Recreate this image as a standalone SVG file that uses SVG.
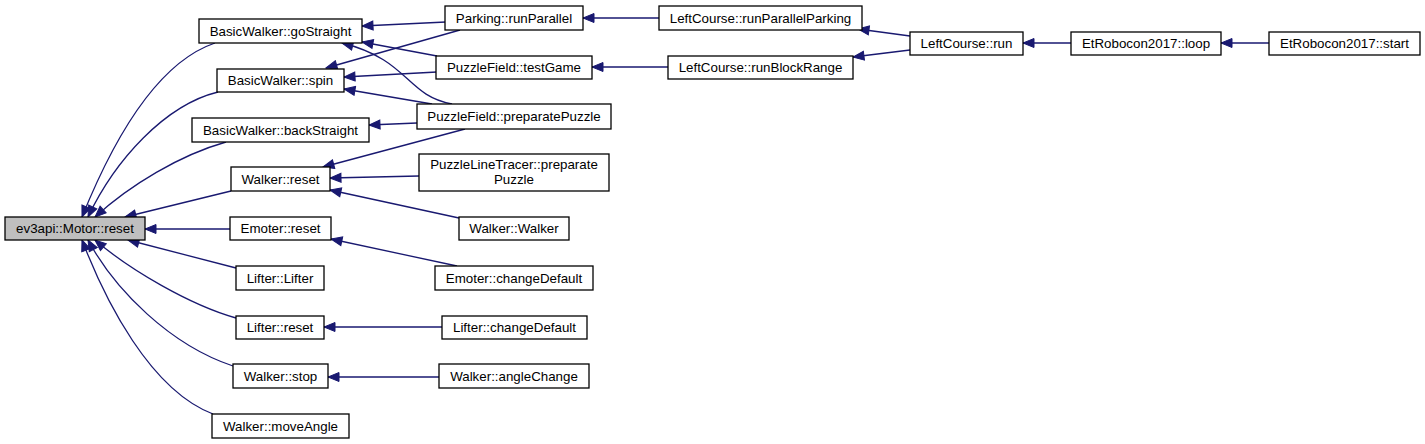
<svg xmlns="http://www.w3.org/2000/svg" width="1425" height="444" viewBox="0 0 1425 444">
<defs>
<marker id="ah" markerUnits="userSpaceOnUse" markerWidth="13" markerHeight="11" viewBox="-1 -1 13 11" refX="11" refY="4.5" orient="auto">
<path d="M0,0 L11,4.5 L0,9 z" fill="#191970" stroke="#191970" stroke-width="1"/>
</marker>
<style>
.n rect{fill:#ffffff;stroke:#000000;stroke-width:1.3}
.n.g rect{fill:#bfbfbf}
.n text{font-family:"Liberation Sans",Arial,Helvetica,sans-serif;font-size:13.33px;fill:#000000;text-anchor:middle}
#edges path{fill:none;stroke:#191970;stroke-width:1.3;marker-end:url(#ah)}
</style>
</defs>
<rect width="1425" height="444" fill="#ffffff"/>
<g id="edges">
<path d="M215,43 C150,65 105,160 82,217"/>
<path d="M218,92 C165,105 115,160 88,217"/>
<path d="M226,142 C180,155 130,185 95,217"/>
<path d="M231,191 L125,217"/>
<path d="M230,229 L145,229"/>
<path d="M236,268 L128,240"/>
<path d="M236,318 C190,305 130,270 95,240"/>
<path d="M233,366 C170,345 115,290 88,240"/>
<path d="M213,414 C150,390 105,300 82,240"/>
<path d="M446,22 L362,26"/>
<path d="M460,30 L326,68"/>
<path d="M437,56 L362,42"/>
<path d="M452,104 C405,95 410,60 342,43"/>
<path d="M437,72 L344,77"/>
<path d="M432,104 L344,89"/>
<path d="M417,123 L369,125"/>
<path d="M465,129 L323,167"/>
<path d="M419,176 L330,178"/>
<path d="M459,218 L330,190"/>
<path d="M457,266 L331,239"/>
<path d="M442,327 L324,327"/>
<path d="M439,377 L328,377"/>
<path d="M659,18 L583,18"/>
<path d="M668,67 L592,67"/>
<path d="M910,36 L858,29"/>
<path d="M910,50 L853,57"/>
<path d="M1071,43 L1023,43"/>
<path d="M1269,43 L1221,43"/>
</g>
<g id="n_motor_reset" class="n g"><rect x="5" y="217" width="140" height="23"/><text x="75" y="233">ev3api::Motor::reset</text></g>
<g id="n_bw_gostraight" class="n"><rect x="199" y="19" width="163" height="24"/><text x="280.5" y="35.5">BasicWalker::goStraight</text></g>
<g id="n_bw_spin" class="n"><rect x="217" y="69" width="127" height="23"/><text x="280.5" y="85">BasicWalker::spin</text></g>
<g id="n_bw_backstraight" class="n"><rect x="192" y="118" width="177" height="24"/><text x="280.5" y="134.5">BasicWalker::backStraight</text></g>
<g id="n_walker_reset" class="n"><rect x="231" y="167" width="99" height="24"/><text x="280.5" y="183.5">Walker::reset</text></g>
<g id="n_emoter_reset" class="n"><rect x="230" y="217" width="101" height="23"/><text x="280.5" y="233">Emoter::reset</text></g>
<g id="n_lifter_lifter" class="n"><rect x="236" y="266" width="88" height="24"/><text x="280" y="282.5">Lifter::Lifter</text></g>
<g id="n_lifter_reset" class="n"><rect x="236" y="316" width="88" height="23"/><text x="280" y="332">Lifter::reset</text></g>
<g id="n_walker_stop" class="n"><rect x="233" y="364" width="95" height="24"/><text x="280.5" y="380.5">Walker::stop</text></g>
<g id="n_walker_moveangle" class="n"><rect x="212" y="414" width="137" height="24"/><text x="280.5" y="430.5">Walker::moveAngle</text></g>
<g id="n_parking_runparallel" class="n"><rect x="445" y="6" width="138" height="24"/><text x="514" y="22.5">Parking::runParallel</text></g>
<g id="n_pf_testgame" class="n"><rect x="436" y="56" width="156" height="23"/><text x="514" y="72">PuzzleField::testGame</text></g>
<g id="n_pf_preparatepuzzle" class="n"><rect x="417" y="104" width="194" height="25"/><text x="514" y="121">PuzzleField::preparatePuzzle</text></g>
<g id="n_plt_preparatepuzzle" class="n"><rect x="419" y="154" width="190" height="37"/><text x="514" y="169">PuzzleLineTracer::preparate</text><text x="514" y="184">Puzzle</text></g>
<g id="n_walker_walker" class="n"><rect x="459" y="217" width="110" height="23"/><text x="514" y="233">Walker::Walker</text></g>
<g id="n_emoter_changedefault" class="n"><rect x="435" y="266" width="158" height="24"/><text x="514" y="282.5">Emoter::changeDefault</text></g>
<g id="n_lifter_changedefault" class="n"><rect x="442" y="316" width="145" height="23"/><text x="514.5" y="332">Lifter::changeDefault</text></g>
<g id="n_walker_anglechange" class="n"><rect x="439" y="364" width="150" height="24"/><text x="514" y="380.5">Walker::angleChange</text></g>
<g id="n_lc_runparallelparking" class="n"><rect x="659" y="6" width="203" height="24"/><text x="760.5" y="22.5">LeftCourse::runParallelParking</text></g>
<g id="n_lc_runblockrange" class="n"><rect x="668" y="56" width="185" height="23"/><text x="760.5" y="72">LeftCourse::runBlockRange</text></g>
<g id="n_lc_run" class="n"><rect x="910" y="32" width="113" height="23"/><text x="966.5" y="48">LeftCourse::run</text></g>
<g id="n_et_loop" class="n"><rect x="1071" y="32" width="150" height="23"/><text x="1146" y="48">EtRobocon2017::loop</text></g>
<g id="n_et_start" class="n"><rect x="1269" y="32" width="151" height="23"/><text x="1344.5" y="48">EtRobocon2017::start</text></g>
</svg>
